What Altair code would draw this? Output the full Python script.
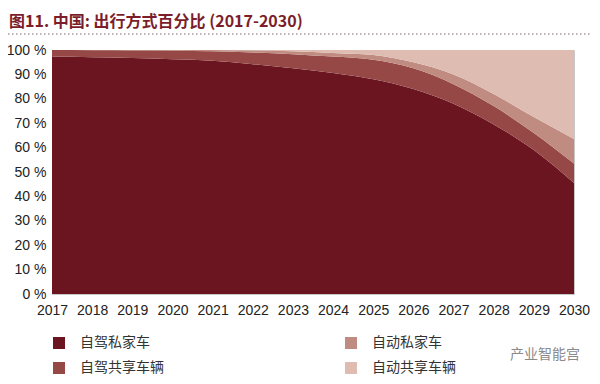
import altair as alt
import pandas as pd

# ---- data ----
years = list(range(2017, 2031))
self_private = [97.3, 97.0, 96.7, 96.2, 95.6, 94.2, 92.5, 90.6, 88.0, 84.0, 78.0, 69.5, 59.0, 45.5]
self_shared = [2.7, 2.9, 3.1, 3.5, 3.9, 4.8, 5.8, 6.7, 8.0, 8.5, 8.0, 7.5, 7.0, 8.0]
auto_private = [0.0, 0.1, 0.2, 0.3, 0.5, 0.8, 1.2, 1.5, 2.0, 2.5, 4.0, 5.0, 6.5, 10.0]
auto_shared = [0.0, 0.0, 0.0, 0.0, 0.0, 0.2, 0.5, 1.2, 2.0, 5.0, 10.0, 18.0, 27.5, 36.5]

series_names = ["自驾私家车", "自驾共享车辆", "自动私家车", "自动共享车辆"]  # stacking order (bottom->top)
series_colors = ["#6B1520", "#964846", "#C08C82", "#DEBCB2"]

title_text = "图11. 中国: 出行方式百分比 (2017-2030)"
watermark_text = "产业智能宫"

rows = []
for name, vals in zip(series_names, [self_private, self_shared, auto_private, auto_shared]):
    for y, v in zip(years, vals):
        rows.append({"year": y, "series": name, "value": v, "ord": series_names.index(name)})
df = pd.DataFrame(rows)

CJK = "Noto Sans CJK SC"
LAT = "Liberation Sans"

area = alt.Chart(df).mark_area(interpolate="monotone", clip=True).encode(
    x=alt.X("year:Q", scale=alt.Scale(domain=[2017, 2030], nice=False, zero=False),
            axis=alt.Axis(values=years, format="d", title=None, labelFontSize=14, labelFont=LAT,
                          labelColor="#222", labelPadding=9, ticks=False, domain=False, grid=False,
                          labelOverlap=False, labelFlush=False)),
    y=alt.Y("value:Q", stack="zero", scale=alt.Scale(domain=[0, 100], nice=False),
            axis=alt.Axis(values=list(range(0, 101, 10)), labelExpr="datum.value + ' %'", title=None,
                          labelFontSize=14, labelFont=LAT, labelColor="#222", labelPadding=6,
                          ticks=False, domain=False, grid=False)),
    color=alt.Color("series:N", scale=alt.Scale(domain=series_names, range=series_colors),
                    legend=alt.Legend(title=None, orient="none", legendX=0, legendY=286, columns=2,
                                      columnPadding=180, rowPadding=11, symbolType="square",
                                      symbolSize=144, symbolStrokeWidth=0, symbolOpacity=1,
                                      labelFont=CJK, labelFontSize=14, labelColor="#333",
                                      labelOffset=14)),
    order=alt.Order("ord:Q", sort="ascending"),
)

title_df = pd.DataFrame({"t": [title_text]})
title = alt.Chart(title_df).mark_text(align="left", baseline="alphabetic", font=CJK, fontSize=16,
                                      fontWeight="bold", color="#7B1E2A").encode(
    text="t:N", x=alt.value(-43), y=alt.value(-23))

dots = alt.Chart(pd.DataFrame({"a": [0]})).mark_rule(strokeDash=[1.5, 2.5], strokeWidth=1.5,
                                                    color="#a89a9a").encode(
    x=alt.value(-44), x2=alt.value(540), y=alt.value(-16))

wm = alt.Chart(pd.DataFrame({"t": [watermark_text]})).mark_text(align="left", baseline="middle", font=CJK,
                                                                 fontSize=14, color="#8a8a8a").encode(
    text="t:N", x=alt.value(458), y=alt.value(305))

chart = alt.layer(area, title, dots, wm).properties(
    width=522, height=244,
    autosize=alt.AutoSizeParams(type="none"),
    padding={"left": 44, "top": 42, "right": 18, "bottom": 82},
).configure_view(stroke="#c8c8c8", strokeWidth=1)

chart.save("out.html", embed_options={"renderer": "svg", "actions": False})
